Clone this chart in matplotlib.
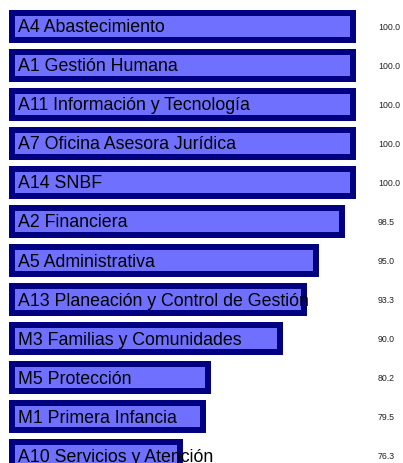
import matplotlib
matplotlib.use("Agg")
import matplotlib.pyplot as plt
import matplotlib.transforms as mtransforms
import numpy as np

plt.rcParams["font.family"] = ["Liberation Sans", "DejaVu Sans"]

# datos
areas = ['A4 Abastecimiento', 'A1 Gestión Humana', 'A11 Información y Tecnología',
         'A7 Oficina Asesora Jurídica', 'A14 SNBF', 'A2 Financiera',
         'A5 Administrativa', 'A13 Planeación y Control de Gestión',
         'M3 Familias y Comunidades', 'M5 Protección', 'M1 Primera Infancia',
         'A10 Servicios y Atención']
valores = [100.0, 100.0, 100.0, 100.0, 100.0, 98.5, 95.0, 93.3, 90.0, 80.2, 79.5, 76.3]

base = 53.3  # inicio de las barras en el eje x

fig = plt.figure(figsize=(4.03, 4.63), dpi=100)
ax = fig.add_axes([0, 0, 1, 1])

y = np.arange(len(areas))
vals = np.array(valores)
ax.barh(y, vals - base, left=base, height=0.692, color='#7070FF',
        edgecolor='#000080', linewidth=4.3)

trans = mtransforms.blended_transform_factory(ax.transAxes, ax.transData)
for i, (nombre, v) in enumerate(zip(areas, valores)):
    # etiqueta dentro de la barra
    ax.text(0.045, i + 0.145, nombre, transform=trans, ha='left', va='baseline',
            fontsize=12.8, color='black')
    # valor a la derecha
    ax.text(0.938, i + 0.075, f'{v:.1f}', transform=trans, ha='left', va='baseline',
            fontsize=6.3, color='#222222')

ax.set_xlim(51.66, 106.86)
ax.set_ylim(11.18, -0.684)
ax.axis('off')

fig.savefig('out.png', dpi=100)
